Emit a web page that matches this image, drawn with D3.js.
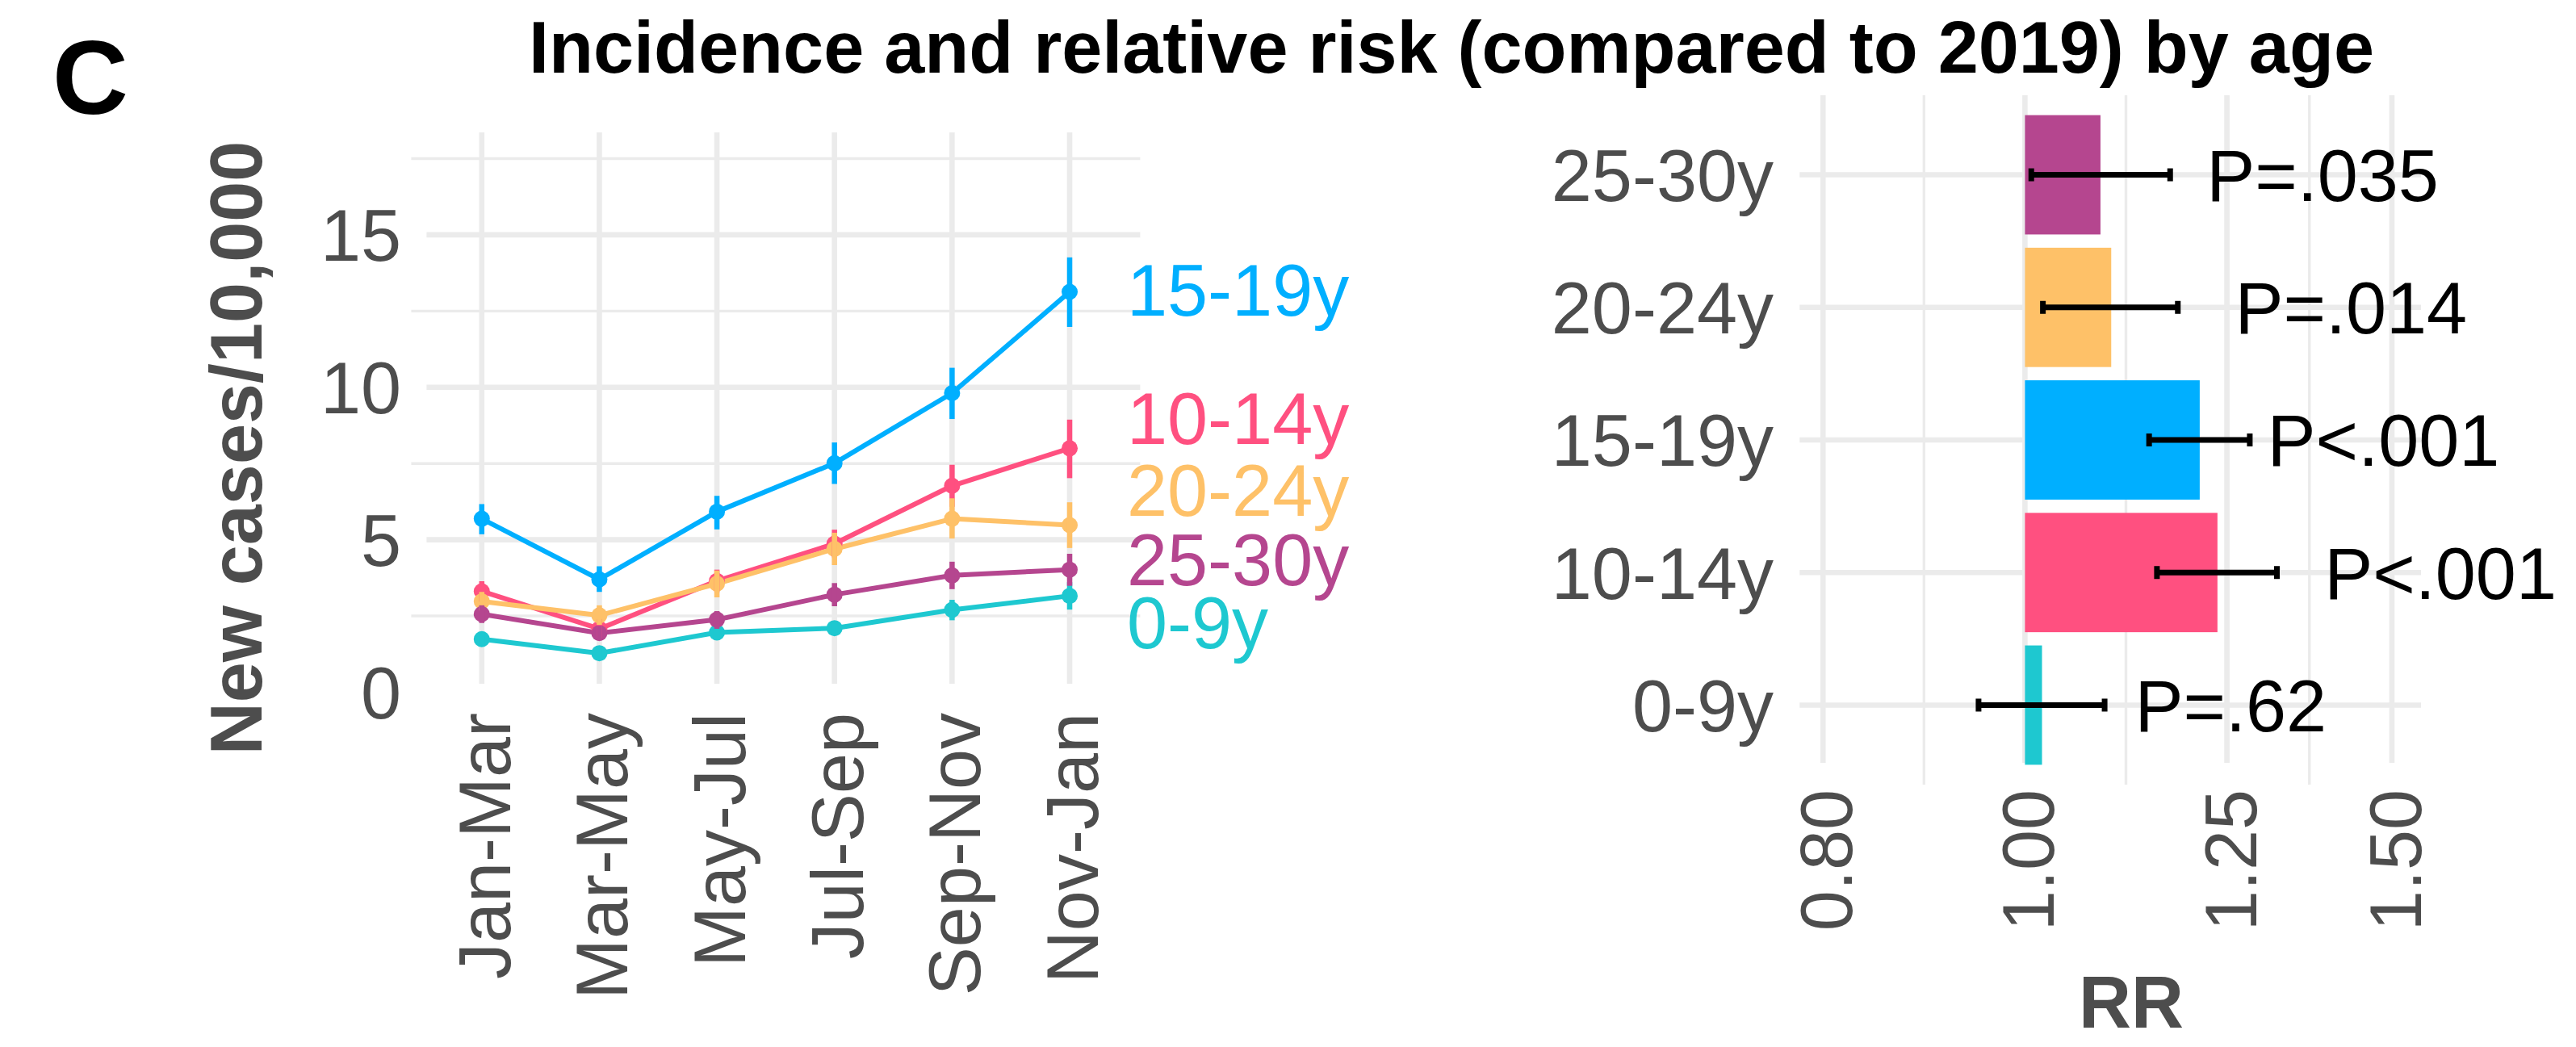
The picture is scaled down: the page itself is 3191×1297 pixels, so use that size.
<!DOCTYPE html>
<html>
<head>
<meta charset="utf-8">
<script src="https://cdn.jsdelivr.net/npm/d3@7"></script>
<style>
  html, body { margin: 0; padding: 0; background: #fff; }
  svg { display: block; }
</style>
</head>
<body>
<svg id="chart" width="3191" height="1297"></svg>
<script>
// ---- data -------------------------------------------------------------
const periods   = ["Jan-Mar", "Mar-May", "May-Jul", "Jul-Sep", "Sep-Nov", "Nov-Jan"];
const ageGroups = ["0-9y", "10-14y", "15-19y", "20-24y", "25-30y"];
const groupColors = ["#1EC8D0", "#FF5080", "#00AFFF", "#FEC168", "#B5468F"];

// New cases per 10,000 by two-month period, with 95% interval
const rate0to9     = [1.74, 1.28, 1.96, 2.10, 2.70, 3.16];
const rate0to9Lo   = [1.53, 1.14, 1.76, 1.89, 2.36, 2.71];
const rate0to9Hi   = [1.95, 1.42, 2.16, 2.31, 3.03, 3.61];

const rate10to14   = [3.31, 2.08, 3.65, 4.87, 6.77, 8.00];
const rate10to14Lo = [2.97, 1.77, 3.28, 4.42, 6.08, 7.02];
const rate10to14Hi = [3.64, 2.40, 4.02, 5.33, 7.46, 8.94];

const rate15to19   = [5.69, 3.70, 5.92, 7.51, 9.81, 13.13];
const rate15to19Lo = [5.18, 3.29, 5.34, 6.83, 8.96, 11.98];
const rate15to19Hi = [6.17, 4.13, 6.44, 8.19, 10.64, 14.26];

const rate20to24   = [2.98, 2.52, 3.56, 4.70, 5.69, 5.48];
const rate20to24Lo = [2.68, 2.21, 3.11, 4.17, 5.04, 4.73];
const rate20to24Hi = [3.29, 2.85, 3.99, 5.23, 6.36, 6.23];

const rate25to30   = [2.56, 1.94, 2.38, 3.20, 3.83, 4.02];
const rate25to30Lo = [2.27, 1.70, 2.08, 2.82, 3.38, 3.49];
const rate25to30Hi = [2.85, 2.18, 2.66, 3.58, 4.28, 4.54];

// where each age label sits on the rate axis, right of the last period
const ageLabelRate = [2.29, 8.99, 13.22, 6.63, 4.36];

const rateTicks = [0, 5, 10, 15];

// Relative risk vs 2019 (same order as ageGroups)
const rr     = [1.019, 1.237, 1.213, 1.100, 1.087];
const rrLo   = [0.950, 1.157, 1.147, 1.020, 1.007];
const rrHi   = [1.092, 1.321, 1.282, 1.184, 1.174];
const pText  = ["P=.62", "P<.001", "P<.001", "P=.014", "P=.035"];
const pTextRR = [1.129, 1.392, 1.307, 1.261, 1.222];

const rrTicks = [0.80, 1.00, 1.25, 1.50];

// ---- setup ------------------------------------------------------------
const FONT = '"Liberation Sans", Arial, Helvetica, sans-serif';
const FS = 90;
const GRID = "#EBEBEB";
const AXIS_TEXT = "#4D4D4D";

const svg = d3.select("#chart")
  .attr("font-family", FONT);

svg.append("rect").attr("width", 3191).attr("height", 1297).attr("fill", "#fff");

// panel tag and title
svg.append("text")
  .attr("x", 65).attr("y", 141)
  .attr("font-size", 130).attr("font-weight", "bold").attr("fill", "#000")
  .text("C");

svg.append("text")
  .attr("x", 1798).attr("y", 90)
  .attr("text-anchor", "middle")
  .attr("font-size", FS).attr("font-weight", "bold").attr("fill", "#000")
  .text("Incidence and relative risk (compared to 2019) by age");

// ---- left panel: incidence over time ----------------------------------
const L = { left: 509.4, right: 1412.4, top: 164, gridBottom: 847, zeroY: 857.5 };

const x = d3.scalePoint().domain(periods).range([L.left, L.right]).padding(0.6);
const y = d3.scaleLinear().domain([0, 18.36]).range([L.zeroY, L.top]);

const left = svg.append("g");

const rateMinor = d3.pairs(d3.range(0, 20.1, 5)).map(([a, b]) => (a + b) / 2)
  .filter(v => y(v) <= L.gridBottom && y(v) >= L.top);
const rateMajor = rateTicks.filter(v => y(v) <= L.gridBottom);

left.append("g").selectAll("line").data(rateMinor).join("line")
  .attr("x1", L.left).attr("x2", L.right)
  .attr("y1", d => y(d)).attr("y2", d => y(d))
  .attr("stroke", GRID).attr("stroke-width", 3.4);

left.append("g").selectAll("line").data(rateMajor).join("line")
  .attr("x1", L.left + 19).attr("x2", L.right)
  .attr("y1", d => y(d)).attr("y2", d => y(d))
  .attr("stroke", GRID).attr("stroke-width", 6.6);

left.append("g").selectAll("line").data(periods).join("line")
  .attr("x1", d => x(d)).attr("x2", d => x(d))
  .attr("y1", L.top).attr("y2", L.gridBottom)
  .attr("stroke", GRID).attr("stroke-width", 6.6);

// y tick labels
left.append("g").selectAll("text").data(rateTicks).join("text")
  .attr("x", 497).attr("y", d => y(d)).attr("dy", "0.36em")
  .attr("text-anchor", "end").attr("font-size", FS).attr("fill", AXIS_TEXT)
  .text(d => d);

// x tick labels, rotated
left.append("g").selectAll("text").data(periods).join("text")
  .attr("transform", d => `translate(${x(d) + 35},883) rotate(-90)`)
  .attr("text-anchor", "end").attr("font-size", FS).attr("fill", AXIS_TEXT)
  .text(d => d);

// y axis title
left.append("text")
  .attr("transform", "translate(324,555) rotate(-90)")
  .attr("text-anchor", "middle").attr("font-size", FS).attr("font-weight", "bold")
  .attr("fill", AXIS_TEXT)
  .text("New cases/10,000");

const rates = [rate0to9, rate10to14, rate15to19, rate20to24, rate25to30];
const ratesLo = [rate0to9Lo, rate10to14Lo, rate15to19Lo, rate20to24Lo, rate25to30Lo];
const ratesHi = [rate0to9Hi, rate10to14Hi, rate15to19Hi, rate20to24Hi, rate25to30Hi];

const series = ageGroups.map((g, i) => ({
  group: g,
  color: groupColors[i],
  labelRate: ageLabelRate[i],
  values: periods.map((p, j) => ({ period: p, rate: rates[i][j], lo: ratesLo[i][j], hi: ratesHi[i][j] }))
}));

const line = d3.line().x(d => x(d.period)).y(d => y(d.rate));

left.append("g").selectAll("path").data(series).join("path")
  .attr("d", d => line(d.values))
  .attr("fill", "none").attr("stroke", d => d.color)
  .attr("stroke-width", 6).attr("stroke-linejoin", "round");

left.append("g").selectAll("g").data(series).join("g")
  .attr("fill", d => d.color)
  .selectAll("circle").data(d => d.values).join("circle")
  .attr("cx", d => x(d.period)).attr("cy", d => y(d.rate)).attr("r", 10);

left.append("g").selectAll("g").data(series).join("g")
  .attr("stroke", d => d.color)
  .selectAll("line").data(d => d.values).join("line")
  .attr("x1", d => x(d.period)).attr("x2", d => x(d.period))
  .attr("y1", d => y(d.lo)).attr("y2", d => y(d.hi))
  .attr("stroke-width", 6.5);

// direct labels for each age group
left.append("g").selectAll("text").data(series).join("text")
  .attr("x", x(periods[periods.length - 1]) + 71)
  .attr("y", d => y(d.labelRate)).attr("dy", "0.36em")
  .attr("font-size", FS).attr("fill", d => d.color)
  .text(d => d.group);

// ---- right panel: relative risk ---------------------------------------
const R = { left: 2229.3, right: 2999, top: 118, bottom: 972, majorBottom: 945 };

const xr = d3.scaleLog().domain([0.7796, 1.549]).range([R.left, R.right]);
const rowOrder = ageGroups.slice().reverse();
const yr = d3.scalePoint().domain(rowOrder).range([R.top, R.bottom]).padding(0.6);
const step = yr.step();

const right = svg.append("g");

const rrMinor = d3.pairs(rrTicks).map(([a, b]) => Math.sqrt(a * b));

right.append("g").selectAll("line").data(rowOrder).join("line")
  .attr("x1", R.left).attr("x2", R.right)
  .attr("y1", d => yr(d)).attr("y2", d => yr(d))
  .attr("stroke", GRID).attr("stroke-width", 6.4);

right.append("g").selectAll("line").data(rrMinor).join("line")
  .attr("x1", d => xr(d)).attr("x2", d => xr(d))
  .attr("y1", R.top).attr("y2", R.bottom)
  .attr("stroke", GRID).attr("stroke-width", 3.4);

right.append("g").selectAll("line").data(rrTicks).join("line")
  .attr("x1", d => xr(d)).attr("x2", d => xr(d))
  .attr("y1", R.top).attr("y2", R.majorBottom)
  .attr("stroke", GRID).attr("stroke-width", 6.6);

const rrRows = ageGroups.map((g, i) => ({
  group: g, color: groupColors[i], rr: rr[i], lo: rrLo[i], hi: rrHi[i],
  p: pText[i], pAt: pTextRR[i]
}));

// bars start at RR = 1
right.append("g").selectAll("rect").data(rrRows).join("rect")
  .attr("x", d => Math.min(xr(1), xr(d.rr)))
  .attr("width", d => Math.abs(xr(d.rr) - xr(1)))
  .attr("y", d => yr(d.group) - step * 0.45)
  .attr("height", step * 0.9)
  .attr("fill", d => d.color);

// confidence intervals
const eb = right.append("g").attr("stroke", "#000").attr("stroke-width", 7);
eb.selectAll("line.h").data(rrRows).join("line").attr("class", "h")
  .attr("x1", d => xr(d.lo)).attr("x2", d => xr(d.hi))
  .attr("y1", d => yr(d.group)).attr("y2", d => yr(d.group));
eb.selectAll("line.lo").data(rrRows).join("line").attr("class", "lo")
  .attr("x1", d => xr(d.lo)).attr("x2", d => xr(d.lo))
  .attr("y1", d => yr(d.group) - 8).attr("y2", d => yr(d.group) + 8);
eb.selectAll("line.hi").data(rrRows).join("line").attr("class", "hi")
  .attr("x1", d => xr(d.hi)).attr("x2", d => xr(d.hi))
  .attr("y1", d => yr(d.group) - 8).attr("y2", d => yr(d.group) + 8);

// P-values
right.append("g").selectAll("text").data(rrRows).join("text")
  .attr("x", d => xr(d.pAt)).attr("y", d => yr(d.group)).attr("dy", "0.36em")
  .attr("font-size", FS).attr("fill", "#000")
  .text(d => d.p);

// y tick labels
right.append("g").selectAll("text").data(rowOrder).join("text")
  .attr("x", 2197).attr("y", d => yr(d)).attr("dy", "0.36em")
  .attr("text-anchor", "end").attr("font-size", FS).attr("fill", AXIS_TEXT)
  .text(d => d);

// x tick labels, rotated
right.append("g").selectAll("text").data(rrTicks).join("text")
  .attr("transform", d => `translate(${xr(d) + 36},978) rotate(-90)`)
  .attr("text-anchor", "end").attr("font-size", FS).attr("fill", AXIS_TEXT)
  .text(d => d3.format(".2f")(d));

right.append("text")
  .attr("x", 2640).attr("y", 1273)
  .attr("text-anchor", "middle").attr("font-size", FS).attr("font-weight", "bold")
  .attr("fill", AXIS_TEXT)
  .text("RR");
</script>
</body>
</html>
